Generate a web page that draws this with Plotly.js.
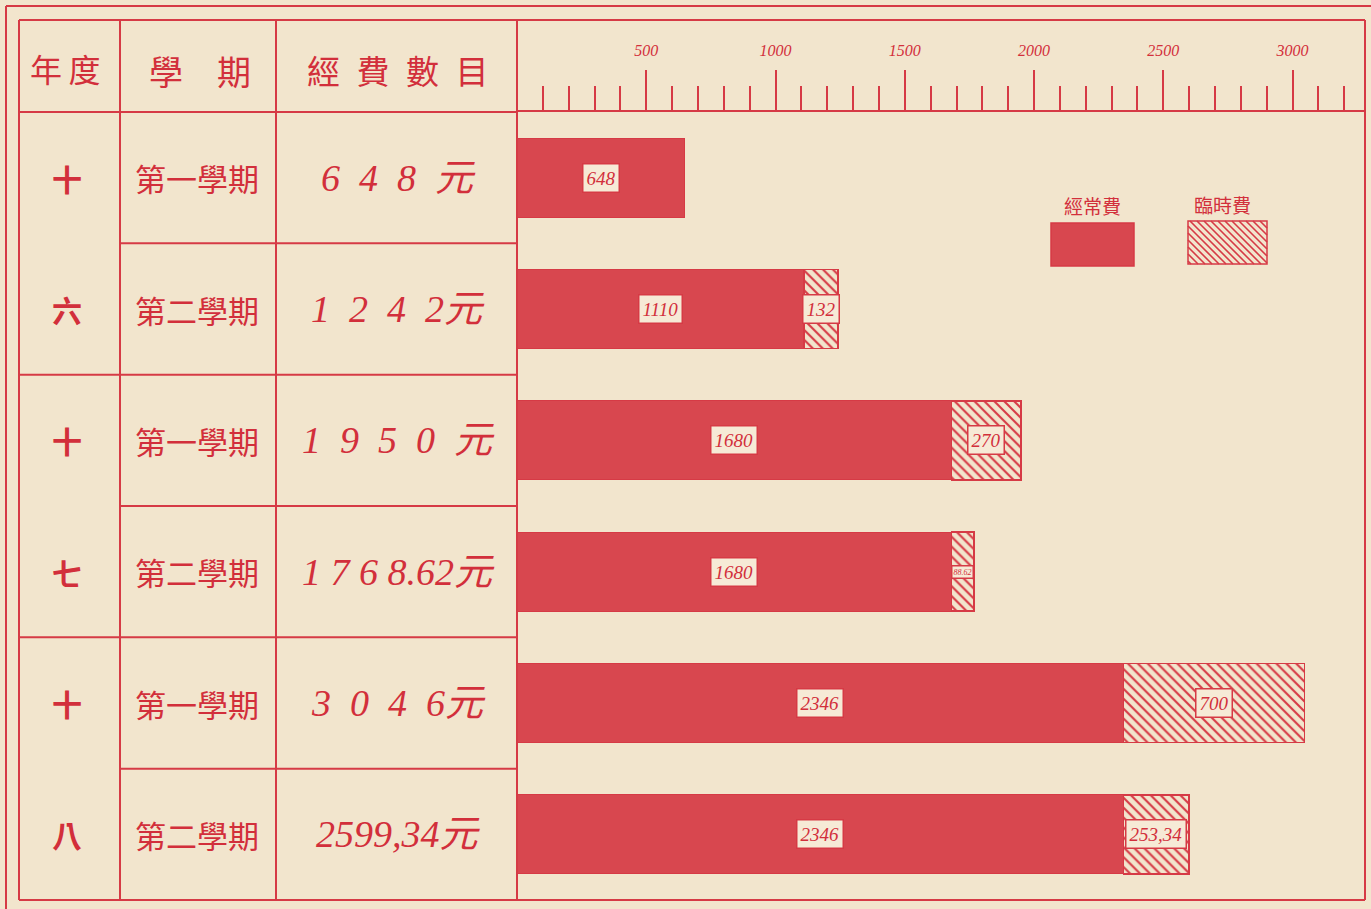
<!DOCTYPE html>
<html>
<head>
<meta charset="utf-8">
<script src="https://cdn.plot.ly/plotly-3.0.1.min.js"></script>
<style>
html,body{margin:0;padding:0;background:#f2e5cd;}
#chart{width:1371px;height:909px;}
</style>
</head>
<body>
<div id="chart"></div>
<script>
// ---------- data ----------
const rowKeys = ['十六-1', '十六-2', '十七-1', '十七-2', '十八-1', '十八-2'];
const yearChars = ['十', '六', '十', '七', '十', '八'];
const semesters = ['第一學期', '第二學期', '第一學期', '第二學期', '第一學期', '第二學期'];
const totalLabels = ['6 4 8 元', '1 2 4 2元', '1 9 5 0 元', '1 7 6 8.62元', '3 0 4 6元', '2599,34元'];
const regularFees = [648, 1110, 1680, 1680, 2346, 2346];
const temporaryFees = [0, 132, 270, 88.62, 700, 253.34];
const regularLabels = ['648', '1110', '1680', '1680', '2346', '2346'];
const temporaryLabels = ['', '132', '270', '88.62', '700', '253,34'];
const headerLabels = ['年\u2009度', '學\u3000期', '經\u2002費\u2002數\u2002目'];
const legendNames = ['經常費', '臨時費'];
const majorTicks = [500, 1000, 1500, 2000, 2500, 3000];
const majorTickText = ['500', '1000', '1500', '2000', '2500', '3000'];
const minorTicks = [100, 200, 300, 400, 600, 700, 800, 900, 1100, 1200, 1300, 1400,
  1600, 1700, 1800, 1900, 2100, 2200, 2300, 2400, 2600, 2700, 2800, 2900, 3100, 3200];

// ---------- style ----------
const W = 1371, H = 909;
const RED = '#d63a45';
const BAR = '#d8474f';
const TXT = '#d22f3b';
const PAPER = '#f2e5cd';
const BOX = '#f6ead6';
const px = x => x / W;
const py = y => 1 - y / H;
const CJK = '"Noto Sans CJK TC", "Noto Sans CJK SC", sans-serif';
const HAND = '"Liberation Serif", "DejaVu Serif", "Noto Sans CJK TC", serif';

const traces = [
  {
    type: 'bar', orientation: 'h', name: legendNames[0],
    y: rowKeys, x: regularFees, width: 0.6,
    marker: {color: BAR, line: {color: RED, width: 1}},
    hoverinfo: 'x+name', showlegend: false
  },
  {
    type: 'bar', orientation: 'h', name: legendNames[1],
    y: rowKeys, x: temporaryFees, width: 0.6,
    marker: {
      color: PAPER,
      line: {color: RED, width: 1.6},
      pattern: {shape: '\\', fgcolor: RED, bgcolor: PAPER, fgopacity: 1, size: 7, solidity: 0.3, fillmode: 'replace'}
    },
    hoverinfo: 'x+name', showlegend: false
  }
];

// ---------- table & frame shapes ----------
const shapes = [];
function pline(x0, y0, x1, y1, w) {
  shapes.push({type: 'line', xref: 'paper', yref: 'paper', x0: px(x0), y0: py(y0), x1: px(x1), y1: py(y1),
    line: {color: RED, width: w || 2}});
}
// outer double frame
pline(6, 6, 1371, 6, 2);
pline(6, 6, 6, 909, 2);
pline(19, 20, 1365, 20, 2);
pline(19, 20, 19, 900, 2);
pline(1365, 20, 1365, 900, 2);
pline(19, 900, 1365, 900, 2);
// column lines
pline(120, 20, 120, 900, 2);
pline(276, 20, 276, 900, 2);
pline(517, 20, 517, 900, 2);
// header bottom
pline(19, 112, 517, 112, 2);
// row separators in table (category coordinates so they align with bars)
for (let i = 0; i < rowKeys.length - 1; i++) {
  const fullWidth = (i % 2 === 1);
  shapes.push({type: 'line', xref: 'paper', yref: 'y',
    x0: px(fullWidth ? 19 : 120), x1: px(517), y0: i + 0.5, y1: i + 0.5,
    line: {color: RED, width: 2}});
}

// ---------- legend (drawn) ----------
shapes.push({type: 'rect', xref: 'paper', yref: 'paper', x0: px(1051), x1: px(1134), y0: py(266), y1: py(223),
  fillcolor: BAR, line: {color: RED, width: 1.5}});
shapes.push({type: 'rect', xref: 'paper', yref: 'paper', x0: px(1188), x1: px(1267), y0: py(264), y1: py(221),
  fillcolor: PAPER, line: {color: RED, width: 1.5}});
(function hatch(x0, y0, x1, y1, s) {
  let path = '';
  for (let c = y0 - x1; c <= y1 - x0; c += s) {
    const xa = Math.max(x0, y0 - c), xb = Math.min(x1, y1 - c);
    if (xb > xa) path += `M${px(xa)},${py(xa + c)}L${px(xb)},${py(xb + c)}`;
  }
  shapes.push({type: 'path', xref: 'paper', yref: 'paper', path: path, line: {color: RED, width: 1.6}});
})(1188, 221, 1267, 264, 7);

// ---------- annotations ----------
const annotations = [];
function ptext(text, x, y, size) {
  annotations.push({xref: 'paper', yref: 'paper', x: px(x), y: py(y), text: text,
    showarrow: false, xanchor: 'center', yanchor: 'middle',
    font: {family: CJK, size: size, color: TXT}});
}
ptext(headerLabels[0], 65, 68, 32);
ptext(headerLabels[1], 200, 70, 34);
ptext(headerLabels[2], 398, 70, 33);
ptext(legendNames[0], 1092, 205, 19);
ptext(legendNames[1], 1222, 204, 19);

for (let i = 0; i < rowKeys.length; i++) {
  annotations.push({xref: 'paper', yref: 'y', x: px(67), y: i, text: yearChars[i], showarrow: false,
    xanchor: 'center', yanchor: 'middle',
    font: {family: CJK, size: 30, color: TXT, weight: 700}});
  annotations.push({xref: 'paper', yref: 'y', x: px(197), y: i, text: semesters[i], showarrow: false,
    xanchor: 'center', yanchor: 'middle',
    font: {family: CJK, size: 31, color: TXT}});
  const gap = totalLabels[i].length > 9 ? '\u2005' : '\u2002';
  annotations.push({xref: 'paper', yref: 'y', x: px(398), y: i, text: totalLabels[i].replace(/ /g, gap),
    showarrow: false, xanchor: 'center', yanchor: 'middle',
    font: {family: HAND, size: 38, color: TXT, style: 'italic'}});
  // bar value boxes
  annotations.push({xref: 'x', yref: 'y', x: regularFees[i] / 2, y: i, text: regularLabels[i], showarrow: false,
    xanchor: 'center', yanchor: 'middle',
    bgcolor: BOX, bordercolor: RED, borderwidth: 1.5, borderpad: 3,
    font: {family: HAND, size: 19, color: TXT, style: 'italic'}});
  if (temporaryFees[i] > 0) {
    const small = temporaryFees[i] < 100;
    annotations.push({xref: 'x', yref: 'y', x: regularFees[i] + temporaryFees[i] / 2, y: i, text: temporaryLabels[i],
      showarrow: false, xanchor: 'center', yanchor: 'middle',
      bgcolor: BOX, bordercolor: RED, borderwidth: 1.5, borderpad: small ? 1 : 3,
      font: {family: HAND, size: small ? 8 : 19, color: TXT, style: 'italic'}});
  }
}

const layout = {
  width: W, height: H,
  margin: {l: 0, r: 0, t: 0, b: 0},
  paper_bgcolor: PAPER, plot_bgcolor: 'rgba(0,0,0,0)',
  barmode: 'stack', bargap: 0.4,
  showlegend: false,
  xaxis: {
    domain: [px(517), px(1365)],
    range: [0, 3280],
    side: 'top',
    showgrid: false, zeroline: false,
    showline: true, linecolor: RED, linewidth: 2,
    tickmode: 'array', tickvals: majorTicks, ticktext: majorTickText,
    ticks: 'outside', ticklen: 40, tickwidth: 2, tickcolor: RED,
    ticklabelstandoff: 8,
    tickfont: {family: HAND, size: 16, color: TXT, style: 'italic'},
    minor: {tickmode: 'array', tickvals: minorTicks, ticks: 'outside', ticklen: 24, tickwidth: 2, tickcolor: RED, showgrid: false},
    fixedrange: true
  },
  yaxis: {
    domain: [py(900), py(112)],
    type: 'category',
    categoryorder: 'array', categoryarray: rowKeys,
    range: [5.5, -0.5],
    showticklabels: false, ticks: '', showgrid: false, zeroline: false, showline: false,
    fixedrange: true
  },
  shapes: shapes,
  annotations: annotations
};

Plotly.newPlot('chart', traces, layout, {displayModeBar: false, staticPlot: true});
</script>
</body>
</html>
